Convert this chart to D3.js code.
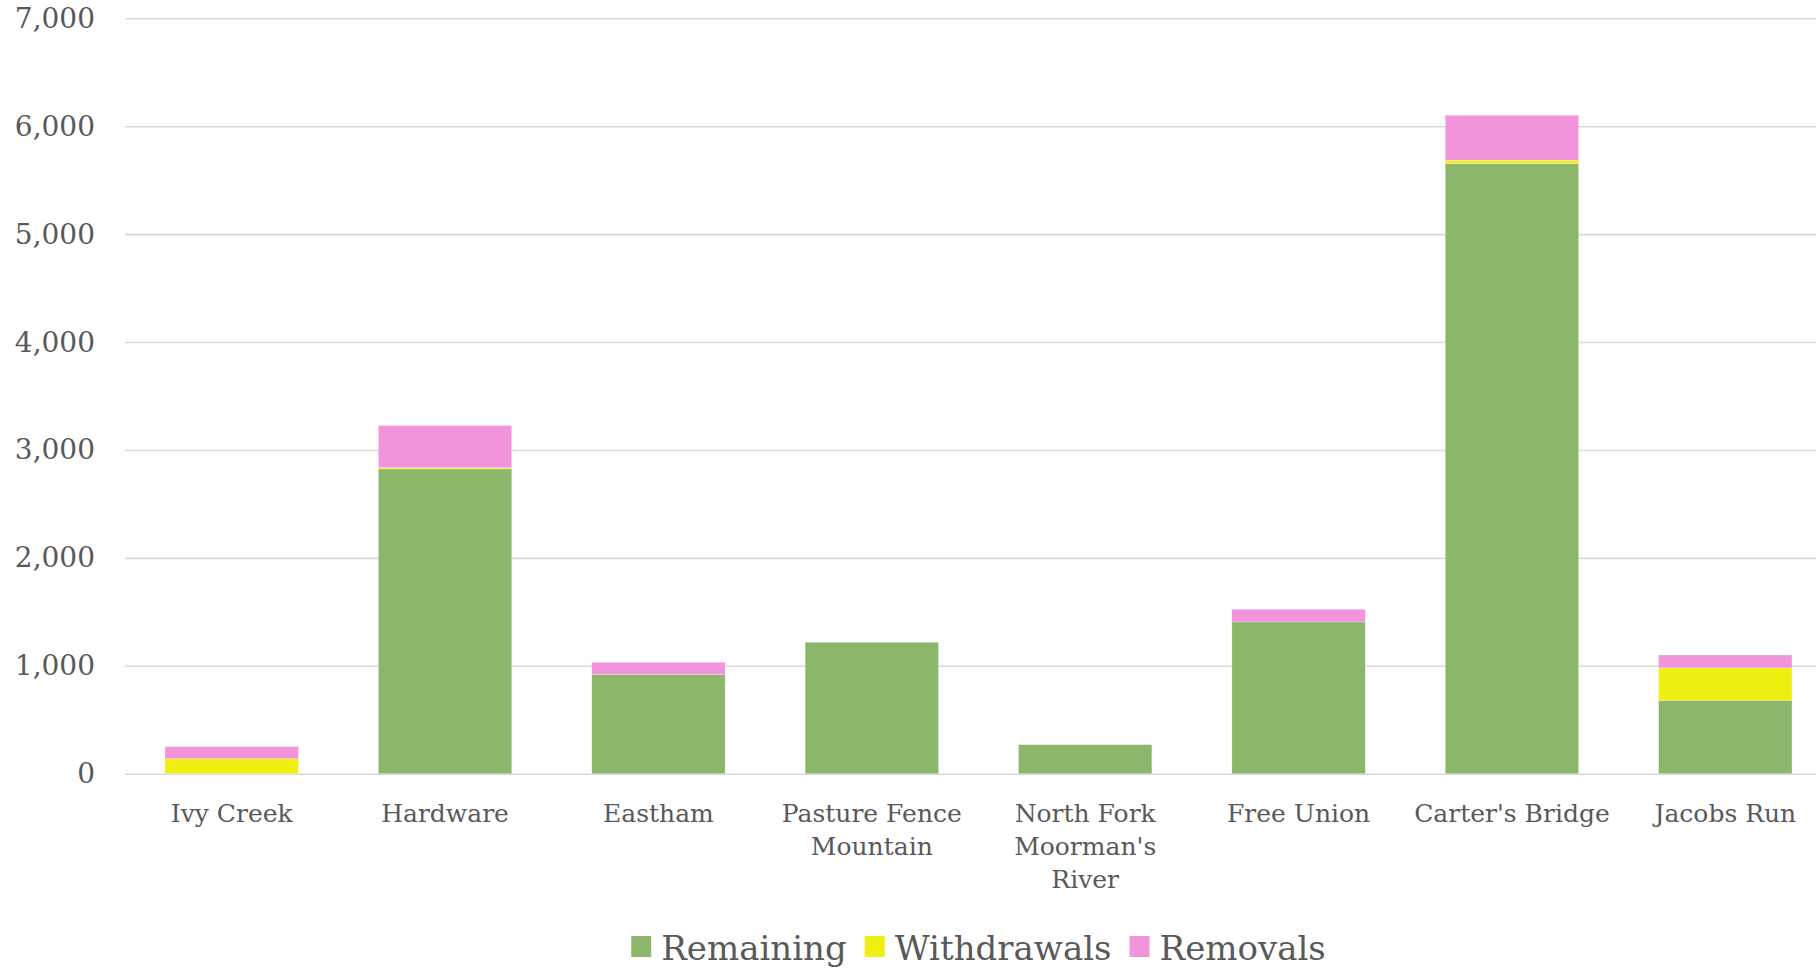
<!DOCTYPE html>
<html>
<head>
<meta charset="utf-8">
<script src="https://cdn.jsdelivr.net/npm/d3@7"></script>
<style>
  html, body { margin: 0; padding: 0; background: #fff; overflow: hidden; }
  svg { display: block; }
</style>
</head>
<body>
<div id="chart"></div>
<script>
// data
var categories  = ["Ivy Creek", "Hardware", "Eastham", "Pasture Fence Mountain",
                   "North Fork Moorman's River", "Free Union", "Carter's Bridge", "Jacobs Run"];
var remaining   = [0, 2824, 921, 1218, 269, 1406, 5653, 680];
var withdrawals = [139, 11, 0, 0, 0, 0, 32, 300];
var removals    = [112, 391, 111, 0, 0, 118, 417, 120];
var seriesNames = ["Remaining", "Withdrawals", "Removals"];
var yTicks      = [0, 1000, 2000, 3000, 4000, 5000, 6000, 7000];

var colors = ["#8cb76a", "#f0ef12", "#f194dc"];

var chart_width  = 1816;
var chart_height = 968;
// plot area (it runs a bit past the right edge, as in the source)
var plotLeft = 125, plotRight = 1832, plotTop = 18.3, plotBottom = 773.7;
var textColor = "#595959";
var font = "'DejaVu Serif', serif";

var rows = categories.map(function(c, i){
    return {cat: c, Remaining: remaining[i], Withdrawals: withdrawals[i], Removals: removals[i]};
});
var stacked = d3.stack().keys(seriesNames)(rows);

var x = d3.scaleBand()
    .domain(categories)
    .range([plotLeft, plotRight])
    .paddingInner(0.375)
    .paddingOuter(0.1875);

var y = d3.scaleLinear()
    .domain([0, 7000])
    .range([plotBottom, plotTop]);

var svg = d3.select("#chart")
    .append("svg")
    .attr("width", chart_width)
    .attr("height", chart_height);

// gridlines + y labels
var yAxis = svg.append("g")
    .attr("transform", "translate(" + plotLeft + ",0)")
    .call(d3.axisLeft(y).tickValues(yTicks).tickFormat(d3.format(","))
        .tickSize(-(chart_width - plotLeft)).tickPadding(30));
yAxis.select(".domain").remove();
yAxis.selectAll(".tick line").attr("stroke", "#d9d9d9").attr("stroke-width", 1.6);
yAxis.selectAll(".tick text")
    .attr("fill", textColor)
    .style("font-family", font)
    .style("font-size", "28px");

// bars
svg.append("g").selectAll("g")
    .data(stacked)
    .enter()
    .append("g")
    .attr("fill", function(d, i){ return colors[i]; })
    .selectAll("rect")
    .data(function(d){ return d.filter(function(p){ return p[1] > p[0]; }); })
    .enter()
    .append("rect")
    .attr("x", function(d){ return x(d.data.cat); })
    .attr("width", x.bandwidth())
    .attr("y", function(d){ return y(d[1]); })
    .attr("height", function(d){ return y(d[0]) - y(d[1]); })
    .attr("stroke", "#fff")
    .attr("stroke-opacity", 0.6)
    .attr("stroke-width", 0.4);

// category labels (wrapped)
var xAxis = svg.append("g")
    .attr("transform", "translate(0," + plotBottom + ")")
    .call(d3.axisBottom(x).tickSize(0).tickPadding(0));
xAxis.select(".domain").remove();
xAxis.selectAll(".tick text")
    .attr("fill", textColor)
    .style("font-family", font)
    .style("font-size", "25px")
    .call(wrap, x.step() * 0.97);

function wrap(texts, width) {
    texts.each(function(){
        var text = d3.select(this);
        var words = text.text().split(/\s+/);
        text.text(null).attr("y", null).attr("dy", null);
        var lines = [], line = [];
        var probe = text.append("tspan");
        words.forEach(function(w){
            line.push(w);
            probe.text(line.join(" "));
            if (probe.node().getComputedTextLength() > width && line.length > 1) {
                line.pop();
                lines.push(line.join(" "));
                line = [w];
            }
        });
        lines.push(line.join(" "));
        probe.remove();
        lines.forEach(function(l, i){
            text.append("tspan")
                .attr("x", 0)
                .attr("y", 48 + i * 33.3)
                .text(l);
        });
    });
}

// legend
var legend = svg.append("g");
var items = legend.selectAll("g")
    .data(seriesNames)
    .enter()
    .append("g");
items.append("rect")
    .attr("width", 20)
    .attr("height", 21)
    .attr("y", 936)
    .attr("fill", function(d, i){ return colors[i]; });
items.append("text")
    .attr("x", 30)
    .attr("y", 960)
    .attr("fill", textColor)
    .style("font-family", font)
    .style("font-size", "34px")
    .text(function(d){ return d; });

var offsets = [], pos = 0;
items.each(function(){
    offsets.push(pos);
    pos += 30 + d3.select(this).select("text").node().getComputedTextLength() + 18;
});
var totalW = pos - 18;
var startX = (plotLeft + plotRight) / 2 - totalW / 2;
items.attr("transform", function(d, i){ return "translate(" + (startX + offsets[i]) + ",0)"; });
</script>
</body>
</html>
